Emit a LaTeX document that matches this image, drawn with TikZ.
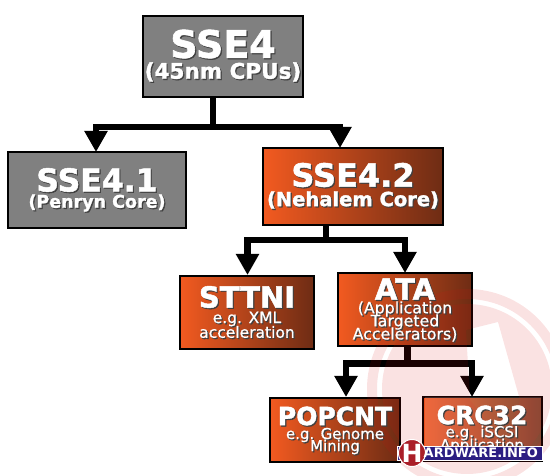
\documentclass[tikz,border=0pt]{standalone}
\usepackage{fontspec}
\setmainfont{DejaVu Sans}
\newfontfamily\heavyfont[BoldFeatures={FakeBold=1.6}]{DejaVu Sans}
\newfontfamily\midfont[FakeBold=0.7]{DejaVu Sans}
\usepackage{tikz}
\usetikzlibrary{arrows.meta}
\definecolor{boxgray}{RGB}{128,128,128}
\definecolor{coreorange}{RGB}{242,90,32}
\definecolor{corebrown}{RGB}{110,44,20}
\definecolor{markred}{RGB}{215,15,15}
\definecolor{badgeblue}{RGB}{44,30,130}
\definecolor{badgered}{RGB}{170,30,40}
\tikzset{
  grayblock/.style={draw=black, line width=1.4pt, fill=boxgray, inner sep=0pt},
  coreblock/.style={draw=black, line width=1.4pt, left color=coreorange, middle color=coreorange, right color=corebrown, inner sep=0pt},
  treeline/.style={draw=black, line width=6.5pt, -{Triangle[length=21pt,width=22pt]}},
  titlefont/.style={font=\fontsize{#1}{#1}\heavyfont\bfseries, inner sep=0pt},
  subfont/.style={font=\fontsize{#1}{#1}\midfont, inner sep=0pt},
}
% text with a small dark drop shadow
\newcommand{\shadowlabel}[4]{%
  \node[#1, text=black!75] at ([shift={(1.2,1.2)}]#2,#3) {#4};
  \node[#1, text=white] (#2#3) at (#2,#3) {#4};
}
\begin{document}
\begin{tikzpicture}[x=1pt,y=-1pt]
  \useasboundingbox (0,0) rectangle (550,476);
  % --- boxes
  \node[grayblock, minimum width=160pt, minimum height=81pt] (sse4) at (223,56.5) {};
  \node[grayblock, minimum width=178pt, minimum height=76pt] (sse41) at (97,190) {};
  \node[coreblock, minimum width=180pt, minimum height=77pt] (sse42) at (353,186.5) {};
  \node[coreblock, minimum width=134pt, minimum height=73pt] (sttni) at (247,312.5) {};
  \node[coreblock, minimum width=134pt, minimum height=73pt] (ata) at (405,309.5) {};
  \node[coreblock, minimum width=130pt, minimum height=64pt] (popcnt) at (335,430) {};
  \node[coreblock, minimum width=119pt, minimum height=64pt] (crc) at (482.5,429) {};
  % --- free ends of the arrows
  \coordinate (to41) at (96,152);
  \coordinate (to42) at (340,148);
  \coordinate (tosttni) at (247.5,275);
  \coordinate (toata) at (405,273);
  \coordinate (topop) at (346,397);
  \coordinate (tocrc) at (472,397);
  \coordinate (from4) at (213,97);
  \coordinate (from42) at (326,225);
  \coordinate (fromata) at (407.5,346);
  % --- connectors
  \draw[treeline] (from4) |- (154,127) -| (to41);
  \draw[treeline] (from4) |- (154,127) -| (to42);
  \draw[treeline] (from42) |- (326,240) -| (tosttni);
  \draw[treeline] (from42) |- (326,240) -| (toata);
  \draw[treeline] (fromata) |- (408,363.5) -| (topop);
  \draw[treeline] (fromata) |- (408,363.5) -| (tocrc);
  % --- watermark
  \fill[markred, opacity=0.12, even odd rule] (467,389) circle (100) (467,389) circle (90)
    (467,389) circle (85)
    (466,330) -- (498,322) -- (520,400) -- (505,445) -- (470,400) -- cycle;
  \fill[white, opacity=0.14] (425,397) -- (541,397) -- (541,460) -- (425,460) -- cycle;
  % --- labels
  \shadowlabel{titlefont=38}{223}{44}{SSE4}
  \shadowlabel{titlefont=21.5}{223}{72}{(45nm CPUs)}
  \shadowlabel{titlefont=31.5}{97}{180}{SSE4.1}
  \shadowlabel{titlefont=17.5}{97}{203}{(Penryn Core)}
  \shadowlabel{titlefont=32}{353}{175}{SSE4.2}
  \shadowlabel{titlefont=19.5}{353}{200}{(Nehalem Core)}
  \shadowlabel{titlefont=29}{247}{297}{STTNI}
  \shadowlabel{subfont=15.5}{247}{319}{e.g. XML}
  \shadowlabel{subfont=15.5}{247}{332}{acceleration}
  \shadowlabel{titlefont=29}{405}{289}{ATA}
  \shadowlabel{subfont=15.8}{405}{309}{(Application}
  \shadowlabel{subfont=15.8}{405}{322}{Targeted}
  \shadowlabel{subfont=15.8}{405}{334.5}{Accelerators)}
  \shadowlabel{titlefont=25}{335}{416}{POPCNT}
  \shadowlabel{subfont=15}{335}{435}{e.g. Genome}
  \shadowlabel{subfont=15}{335}{447}{Mining}
  \shadowlabel{titlefont=25}{482}{415}{CRC32}
  \shadowlabel{subfont=15}{482}{433}{e.g. iSCSI}
  \shadowlabel{subfont=15}{482}{446}{Application}
  % --- badge
  \node[fill=badgeblue, draw=white, minimum width=145pt, minimum height=14pt, inner sep=0pt] (badge) at (469.5,453) {};
  \node[circle, fill=badgered, draw=white, line width=1pt, minimum size=27pt, inner sep=0pt] (badgeh) at (412,453) {};
  \node[font=\fontsize{25}{25}\selectfont\bfseries, text=white, inner sep=0pt] (badgeletter) at (412,453) {H};
  \node[font=\fontsize{13}{13}\selectfont\bfseries, text=white, anchor=west, inner sep=0pt] (badgetext) at (423.5,453) {ARDWARE.INFO};
\end{tikzpicture}
\end{document}
